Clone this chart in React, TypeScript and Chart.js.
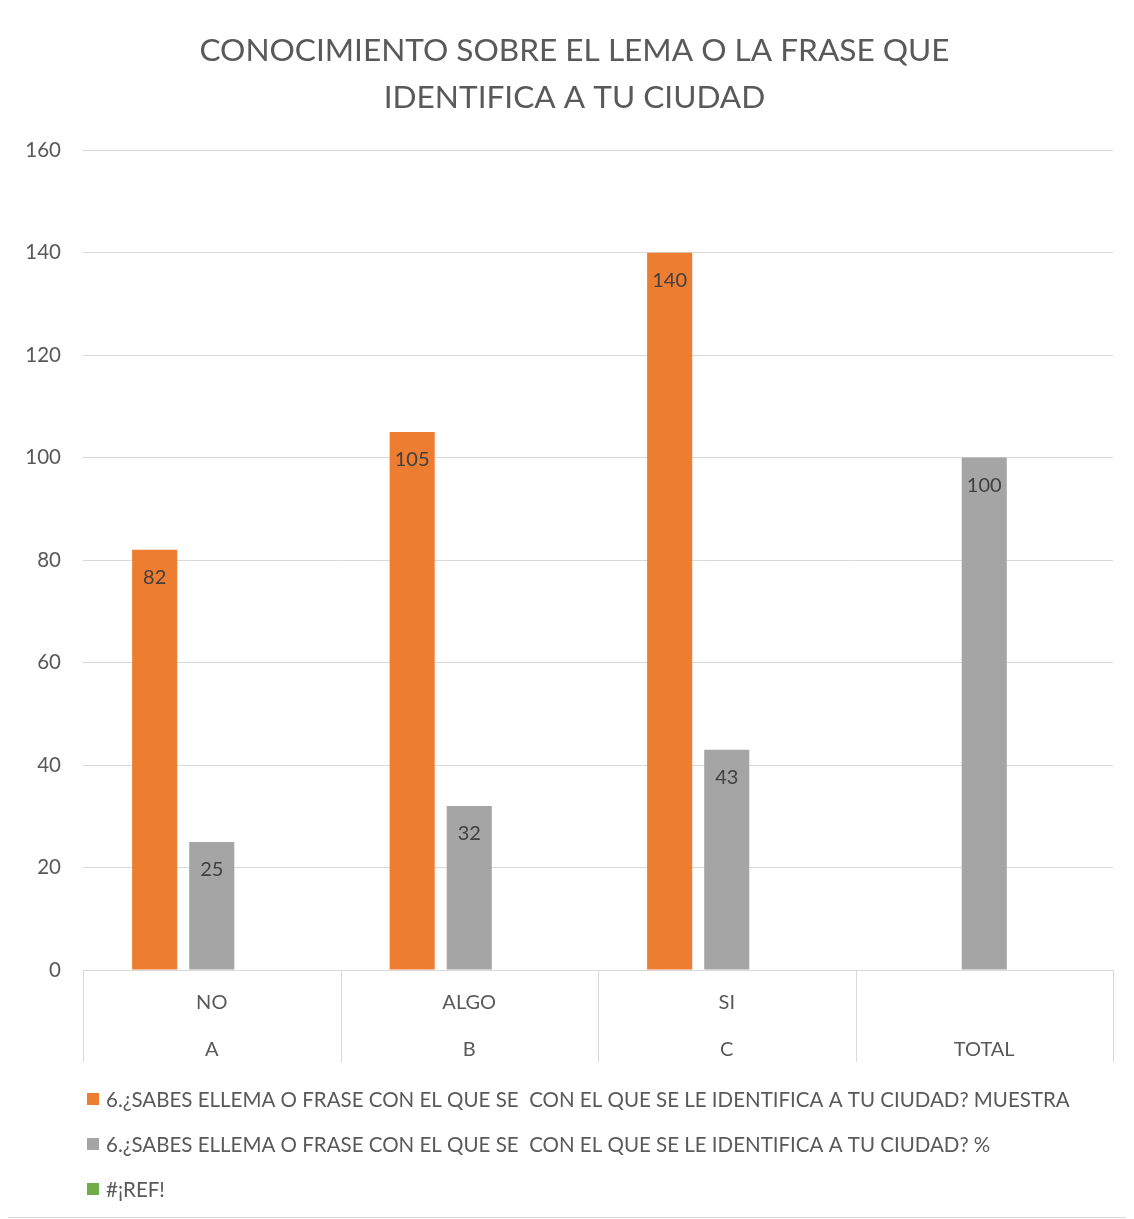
import React, { useEffect, useRef } from "react";
import { Chart, registerables } from "chart.js";

Chart.register(...registerables);

const titleLines = ["CONOCIMIENTO SOBRE EL LEMA O LA FRASE QUE", "IDENTIFICA A TU CIUDAD"];
const topLabels = ["NO", "ALGO", "SI", ""];
const bottomLabels = ["A", "B", "C", "TOTAL"];
const seriesNames = [
  "6.¿SABES ELLEMA O FRASE CON EL QUE SE  CON EL QUE SE LE IDENTIFICA A TU CIUDAD? MUESTRA",
  "6.¿SABES ELLEMA O FRASE CON EL QUE SE  CON EL QUE SE LE IDENTIFICA A TU CIUDAD? %",
  "#¡REF!",
];
const muestra: (number | null)[] = [82, 105, 140, null];
const porcentaje: (number | null)[] = [25, 32, 43, 100];
const refError: (number | null)[] = [null, null, null, null];
const colors = ["#ED7D31", "#A5A5A5", "#70AD47"];
const yTicks = { min: 0, max: 160, step: 20 };

const FONT = "Lato, 'Open Sans', sans-serif";
const TEXT = "#595959";
const GRID = "#D9D9D9";

const valueLabels = {
  id: "valueLabels",
  afterDatasetsDraw(chart: any) {
    const ctx = chart.ctx;
    ctx.save();
    ctx.font = `20px ${FONT}`;
    ctx.fillStyle = "#404040";
    ctx.textAlign = "center";
    ctx.textBaseline = "middle";
    chart.data.datasets.forEach((ds: any, di: number) => {
      const meta = chart.getDatasetMeta(di);
      meta.data.forEach((bar: any, i: number) => {
        const v = ds.data[i];
        if (v === null || v === undefined) return;
        ctx.fillText(String(v), bar.x, bar.y + 28);
      });
    });
    ctx.restore();
  },
};

const categorySeparators = {
  id: "categorySeparators",
  afterDraw(chart: any) {
    const ctx = chart.ctx;
    const xs = chart.scales.x;
    const n = chart.data.labels.length;
    const half = (xs.getPixelForValue(1) - xs.getPixelForValue(0)) / 2;
    ctx.save();
    ctx.strokeStyle = GRID;
    ctx.lineWidth = 1;
    for (let i = 0; i <= n; i++) {
      const x = Math.round(xs.getPixelForValue(Math.min(i, n - 1)) + (i < n ? -half : half)) + 0.5;
      ctx.beginPath();
      ctx.moveTo(x, xs.top);
      ctx.lineTo(x, xs.bottom);
      ctx.stroke();
    }
    ctx.restore();
  },
};

const bottomLegend = {
  id: "bottomLegend",
  afterDraw(chart: any) {
    const ctx = chart.ctx;
    const area = chart.chartArea;
    ctx.save();
    ctx.font = `20.5px ${FONT}`;
    ctx.textBaseline = "middle";
    ctx.textAlign = "left";
    chart.data.datasets.forEach((ds: any, i: number) => {
      const y = area.bottom + 129 + i * 45;
      const x = area.left + 4;
      ctx.fillStyle = ds.backgroundColor;
      ctx.fillRect(x, y - 6, 12, 12);
      ctx.fillStyle = TEXT;
      ctx.fillText(ds.label, x + 19, y + 1);
    });
    ctx.restore();
  },
};

export default function App() {
  const ref = useRef<HTMLCanvasElement | null>(null);
  useEffect(() => {
    if (!ref.current) return;
    const labels = topLabels.map((t, i) => [t, bottomLabels[i]]);
    const chart = new Chart(ref.current, {
      type: "bar",
      data: {
        labels,
        datasets: [
          { label: seriesNames[0], data: muestra, backgroundColor: colors[0] },
          { label: seriesNames[1], data: porcentaje, backgroundColor: colors[1] },
          { label: seriesNames[2], data: refError, backgroundColor: colors[2] },
        ],
      },
      options: {
        animation: false,
        responsive: true,
        maintainAspectRatio: false,
        layout: { padding: { left: 0, right: -9, top: 19, bottom: 155 } },
        datasets: { bar: { categoryPercentage: 0.665, barPercentage: 0.79 } } as any,
        plugins: {
          legend: { display: false },
          tooltip: { enabled: false },
          title: {
            display: true,
            text: titleLines,
            color: TEXT,
            font: { family: FONT, size: 31.6, weight: "normal", lineHeight: 1.49 },
            padding: { top: 0, bottom: 29 },
          },
        },
        scales: {
          x: {
            afterFit(scale: any) {
              scale.height = 92;
            },
            grid: { display: false },
            border: { display: true, color: GRID, width: 1 },
            ticks: {
              color: TEXT,
              font: { family: FONT, size: 20, lineHeight: 2.35 },
              padding: 1,
              maxRotation: 0,
              autoSkip: false,
            },
          },
          y: {
            min: yTicks.min,
            max: yTicks.max,
            afterFit(scale: any) {
              scale.width = 75;
            },
            ticks: {
              stepSize: yTicks.step,
              color: TEXT,
              font: { family: FONT, size: 20.5 },
              padding: 22,
            },
            grid: { color: GRID, drawTicks: false, lineWidth: 1 },
            border: { display: false },
          },
          yRight: {
            position: "right",
            min: yTicks.min,
            max: yTicks.max,
            afterFit(scale: any) {
              scale.width = 28;
            },
            ticks: { display: false },
            grid: { display: false, drawTicks: false },
            border: { display: false },
          },
        },
      },
      plugins: [valueLabels, categorySeparators, bottomLegend],
    });
    return () => chart.destroy();
  }, []);
  return (
    <div
      style={{
        width: 1126,
        height: 1211,
        border: "1px solid #D9D9D9",
        boxSizing: "border-box",
        position: "relative",
        background: "#fff",
        marginLeft: -1,
        marginTop: -1,
      }}
    >
      <canvas ref={ref} />
    </div>
  );
}
